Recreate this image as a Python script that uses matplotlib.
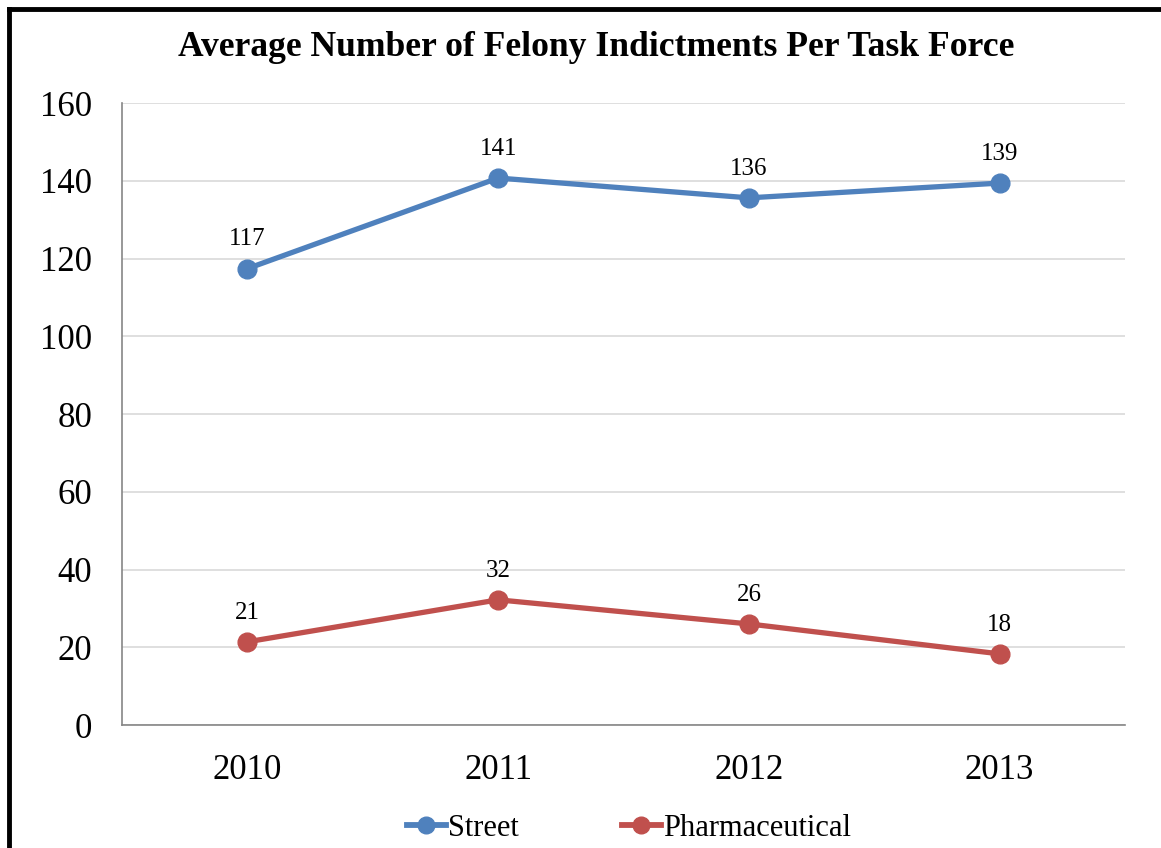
import numpy as np
import matplotlib
matplotlib.use('Agg')
import matplotlib.pyplot as plt
from matplotlib.lines import Line2D

YEARS = ['2010', '2011', '2012', '2013']
STREET = [117.4, 140.7, 135.6, 139.4]
PHARMA = [21.4, 32.2, 26.0, 18.3]
SERIES = [('Street', STREET, '#4F81BD'), ('Pharmaceutical', PHARMA, '#C0504D')]

plt.rcParams['font.family'] = ['Liberation Serif', 'DejaVu Serif']

fig = plt.figure(figsize=(11.61, 8.48), dpi=100)
ax = fig.add_axes([122/1161, 1 - 725/848, (1125-122)/1161, (725-103)/848])

x = np.arange(len(YEARS))
for name, vals, col in SERIES:
    ax.plot(x, vals, color=col, lw=3.8, marker='o', ms=13.5, label=name, zorder=3,
            solid_capstyle='round')
    for xi, v in zip(x, vals):
        ax.annotate(f'{v:.0f}', (xi, v), xytext=(0, 21), textcoords='offset points',
                    ha='center', va='center', fontsize=18)

ax.set_xlim(-0.5, 3.5)
ax.set_ylim(0, 160)
ax.set_yticks(range(0, 161, 20))
ax.set_xticks(x)
ax.set_xticklabels(YEARS)
ax.tick_params(axis='both', labelsize=25, length=0)
ax.tick_params(axis='y', pad=21.5)
ax.tick_params(axis='x', pad=21)
ax.grid(True, axis='y', color='#d9d9d9', lw=1.2, zorder=0)
for s in ['top', 'right']:
    ax.spines[s].set_visible(False)
for s in ['left', 'bottom']:
    ax.spines[s].set_color('#868686')
    ax.spines[s].set_linewidth(1.2)

fig.text(596/1161, 1 - 48/848, 'Average Number of Felony Indictments Per Task Force',
         ha='center', va='center', fontsize=25.6, fontweight='bold')

handles = [Line2D([], [], color=c, lw=4.2, marker='o', ms=12) for _, _, c in SERIES]
fig.legend(handles, [n for n, _, _ in SERIES], loc='center', bbox_to_anchor=(629/1161, 1 - 828/848),
           ncol=2, frameon=False, fontsize=22, handlelength=1.25, handletextpad=0.07,
           columnspacing=3.4)

# black frame on left and top
fig.add_artist(Line2D([9/1161, 9/1161], [0, 1 - 9/848], transform=fig.transFigure,
                      color='black', lw=3.5, solid_capstyle='projecting'))
fig.add_artist(Line2D([9/1161, 1], [1 - 9/848, 1 - 9/848], transform=fig.transFigure,
                      color='black', lw=3.5, solid_capstyle='projecting'))

fig.savefig('out.png', dpi=100)
